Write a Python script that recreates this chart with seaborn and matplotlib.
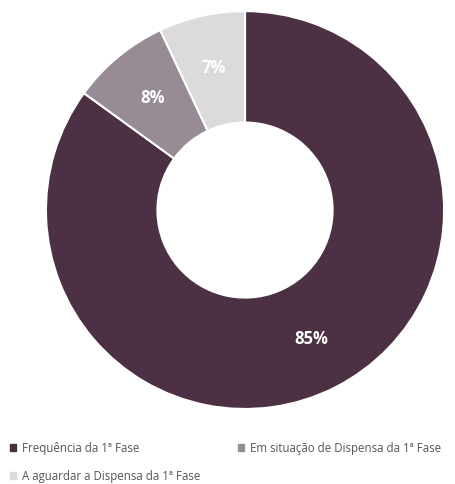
import matplotlib
matplotlib.use("Agg")
import numpy as np
import matplotlib.pyplot as plt
import seaborn as sns
from matplotlib.patches import Patch

labels = ["Frequência da 1ª Fase", "Em situação de Dispensa da 1ª Fase", "A aguardar a Dispensa da 1ª Fase"]
values = [85, 8, 7]
colors = ["#4b3143", "#978c95", "#dddadc"]

sns.set_theme(style="white")
plt.rcParams['font.family'] = ['Open Sans', 'DejaVu Sans']

fig = plt.figure(figsize=(4.55, 4.84), dpi=100)
ax = fig.add_axes([0.101, 0.155, 0.875, 0.822])

wedges, texts = ax.pie(values, colors=colors, startangle=90, counterclock=False,
                       wedgeprops=dict(width=0.56, edgecolor="white", linewidth=1.5))
for w, v in zip(wedges, values):
    ang = np.deg2rad((w.theta1 + w.theta2) / 2)
    ax.text(0.73 * np.cos(ang), 0.73 * np.sin(ang), f"{v}%", ha="center", va="center",
            color="white", fontsize=12, fontweight="bold")
ax.set_xlim(-1, 1)
ax.set_ylim(-1, 1)
ax.set_aspect("auto")

handles = [Patch(color=c) for c in colors]
order = [0, 2, 1]
leg = fig.legend([handles[i] for i in order], [labels[i] for i in order], ncol=2,
                 loc="upper left", bbox_to_anchor=(0.012, 0.097), frameon=False,
                 fontsize=8.3, handlelength=0.5, handleheight=0.5, handletextpad=0.5,
                 columnspacing=3.3, labelspacing=1.3, labelcolor="#555555",
                 borderaxespad=0.0)

fig.savefig("out.png", dpi=100)
